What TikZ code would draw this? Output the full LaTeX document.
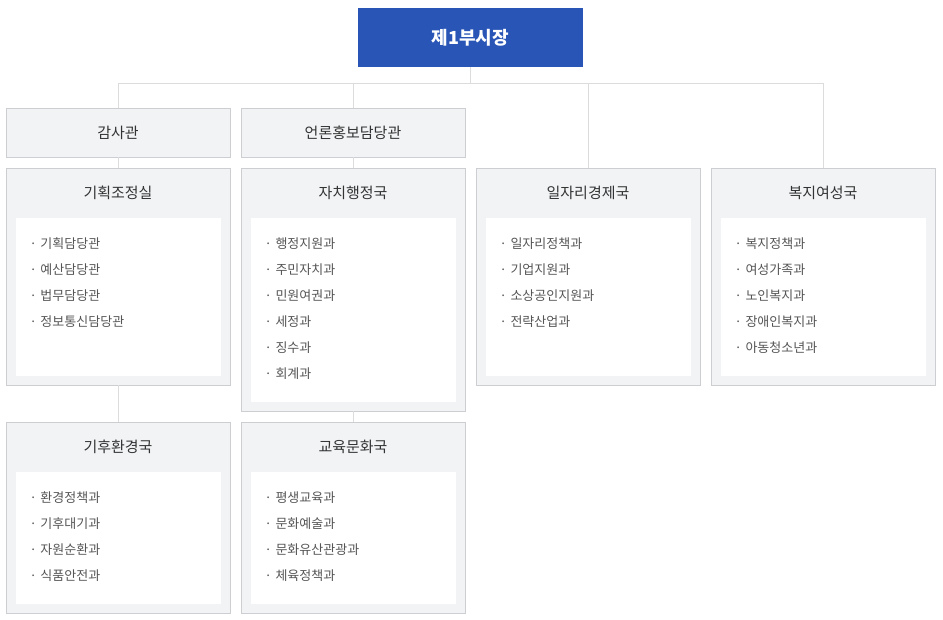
\documentclass[tikz,border=0pt]{standalone}
\usepackage{fontspec}
\newfontfamily\kr{Noto Sans CJK KR}
\usetikzlibrary{positioning}
\definecolor{viceblue}{HTML}{2855B6}
\definecolor{boxgray}{HTML}{F2F3F5}
\definecolor{boxline}{HTML}{CDCED2}
\definecolor{linegray}{HTML}{DCDCDC}
\definecolor{titletext}{HTML}{333333}
\definecolor{itemtext}{HTML}{555555}
\newcommand{\itm}[1]{\makebox[11pt][l]{·}#1}

\begin{document}
\begin{tikzpicture}[x=1pt,y=-1pt,every node/.style={outer sep=0pt,inner sep=0pt},
 vicebox/.style={fill=viceblue,text=white,font=\kr\bfseries\fontsize{18pt}{20pt}\selectfont,
 minimum width=225pt,minimum height=59pt},
 smallbox/.style={draw=boxline,fill=boxgray,line width=1pt,minimum width=224pt,
 minimum height=49pt,text=titletext,font=\kr\fontsize{15pt}{18pt}\selectfont},
 deptbox/.style={draw=boxline,fill=boxgray,line width=1pt,minimum width=224pt},
 depttitle/.style={text=titletext,font=\kr\fontsize{15pt}{18pt}\selectfont},
 innerbox/.style={fill=white,minimum width=205pt},
 itemlist/.style={align=left,text=itemtext,font=\kr\fontsize{13pt}{26pt}\selectfont},
 conn/.style={draw=linegray,line width=1pt}]
\useasboundingbox (0,0) rectangle (943,619);

\node[vicebox] (vice) at (470.5,37.5) {제1부시장};

\node[smallbox] (audit) at (118,132.5) {감사관};
\node[smallbox,right=11pt of audit] (press) {언론홍보담당관};

\node[deptbox,minimum height=217pt,below=11pt of audit] (plan) {};
\node[deptbox,minimum height=243pt,below=11pt of press] (admin) {};
\node[deptbox,minimum height=217pt,right=11pt of admin.north east,anchor=north west] (econ) {};
\node[deptbox,minimum height=217pt,right=11pt of econ] (welfare) {};
\node[deptbox,minimum height=191pt,below=37pt of plan] (climate) {};
\node[deptbox,minimum height=191pt,below=11pt of admin] (edu) {};

% titles
\node[depttitle] (plan-t) at ([yshift=-25pt]plan.north) {기획조정실};
\node[depttitle] (admin-t) at ([yshift=-25pt]admin.north) {자치행정국};
\node[depttitle] (econ-t) at ([yshift=-25pt]econ.north) {일자리경제국};
\node[depttitle] (welfare-t) at ([yshift=-25pt]welfare.north) {복지여성국};
\node[depttitle] (climate-t) at ([yshift=-25pt]climate.north) {기후환경국};
\node[depttitle] (edu-t) at ([yshift=-25pt]edu.north) {교육문화국};

% white panels
\node[innerbox,minimum height=158pt,below=50pt of plan.north] (plan-in) {};
\node[innerbox,minimum height=184pt,below=50pt of admin.north] (admin-in) {};
\node[innerbox,minimum height=158pt,below=50pt of econ.north] (econ-in) {};
\node[innerbox,minimum height=158pt,below=50pt of welfare.north] (welfare-in) {};
\node[innerbox,minimum height=132pt,below=50pt of climate.north] (climate-in) {};
\node[innerbox,minimum height=132pt,below=50pt of edu.north] (edu-in) {};

% lists
\node[itemlist,below right=20pt and 14pt of plan-in.north west] (plan-l)
 {\itm{기획담당관}\\ \itm{예산담당관}\\ \itm{법무담당관}\\ \itm{정보통신담당관}};
\node[itemlist,below right=20pt and 14pt of admin-in.north west] (admin-l)
 {\itm{행정지원과}\\ \itm{주민자치과}\\ \itm{민원여권과}\\ \itm{세정과}\\ \itm{징수과}\\ \itm{회계과}};
\node[itemlist,below right=20pt and 14pt of econ-in.north west] (econ-l)
 {\itm{일자리정책과}\\ \itm{기업지원과}\\ \itm{소상공인지원과}\\ \itm{전략산업과}};
\node[itemlist,below right=20pt and 14pt of welfare-in.north west] (welfare-l)
 {\itm{복지정책과}\\ \itm{여성가족과}\\ \itm{노인복지과}\\ \itm{장애인복지과}\\ \itm{아동청소년과}};
\node[itemlist,below right=20pt and 14pt of climate-in.north west] (climate-l)
 {\itm{환경정책과}\\ \itm{기후대기과}\\ \itm{자원순환과}\\ \itm{식품안전과}};
\node[itemlist,below right=20pt and 14pt of edu-in.north west] (edu-l)
 {\itm{평생교육과}\\ \itm{문화예술과}\\ \itm{문화유산관광과}\\ \itm{체육정책과}};

% connectors
\coordinate (bus) at (0,83);
\draw[conn] (vice.south) -- (vice.south|-bus);
\draw[conn] (audit.north|-bus) -- (welfare.north|-bus);
\draw[conn] (audit.north|-bus) -- (audit.north);
\draw[conn] (press.north|-bus) -- (press.north);
\draw[conn] (econ.north|-bus) -- (econ.north);
\draw[conn] (welfare.north|-bus) -- (welfare.north);
\draw[conn] (audit) -- (plan);
\draw[conn] (press) -- (admin);
\draw[conn] (plan) -- (climate);
\draw[conn] (admin) -- (edu);
\end{tikzpicture}
\end{document}
